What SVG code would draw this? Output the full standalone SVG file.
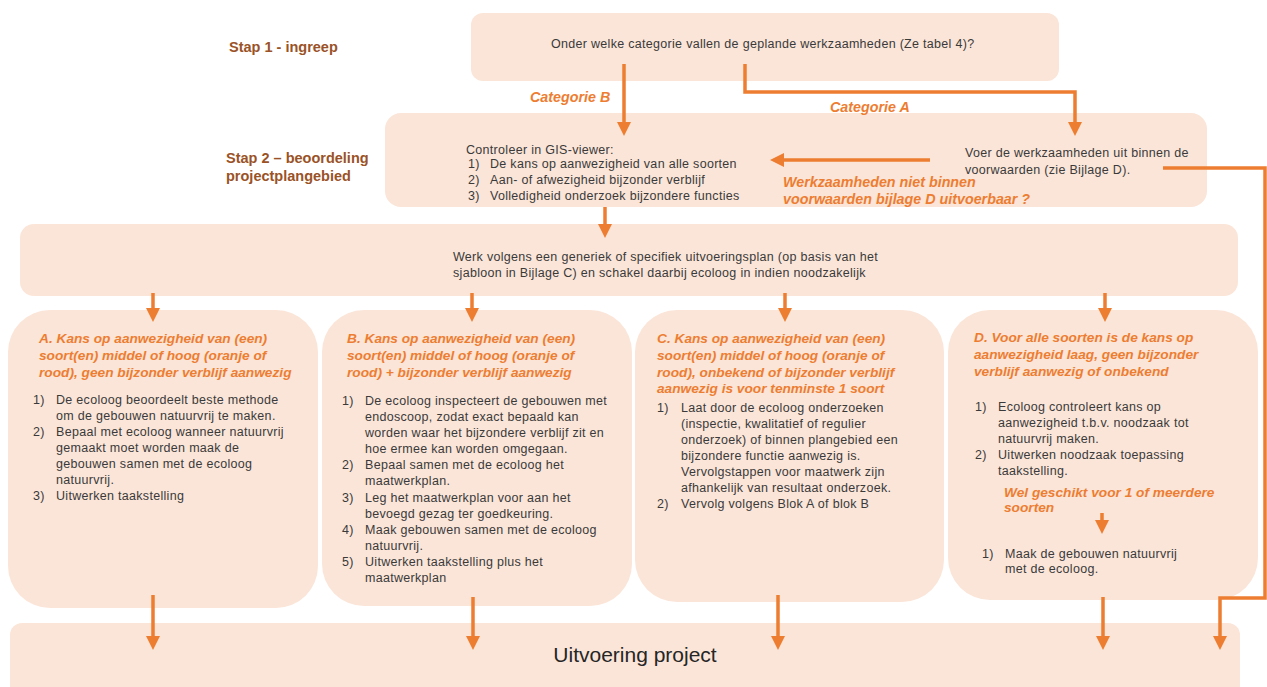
<svg xmlns="http://www.w3.org/2000/svg" width="1267" height="687" viewBox="0 0 1267 687">
  <style>
    .box { fill: #FBE5D8; }
    .txt { font-family: "Liberation Sans", Arial, sans-serif; font-size: 12.5px; letter-spacing: 0.3px; fill: #3a3a3a; }
    .hd { font-family: "Liberation Sans", Arial, sans-serif; font-size: 13.7px; font-weight: bold; font-style: italic; fill: #ED7D31; }
    .lbl { font-family: "Liberation Sans", Arial, sans-serif; font-size: 14.3px; font-weight: bold; font-style: italic; fill: #ED7D31; }
    .stap { font-family: "Liberation Sans", Arial, sans-serif; font-size: 14.5px; font-weight: bold; fill: #9A5226; }
    .big { font-family: "Liberation Sans", Arial, sans-serif; font-size: 21px; fill: #262626; }
    .con { fill: none; stroke: #ED7D31; stroke-width: 3.5; }
  </style>
  <defs>
    <marker id="arrow" markerUnits="userSpaceOnUse" markerWidth="14" markerHeight="14" viewBox="0 0 14 14" refX="2" refY="7" orient="auto">
      <path d="M0,0 L14,7 L0,14 z" fill="#ED7D31"/>
    </marker>
  </defs>

  <rect width="1267" height="687" fill="#ffffff"/>

  <!-- side labels -->
  <text class="stap" x="229" y="52">Stap 1 - ingreep</text>
  <text class="stap" x="226" y="163">Stap 2 – beoordeling</text>
  <text class="stap" x="226" y="181">projectplangebied</text>

  <!-- step 1 question -->
  <g id="vraag">
    <rect class="box" x="471" y="13" width="588" height="68" rx="12"/>
    <text class="txt" x="551" y="48">Onder welke categorie vallen de geplande werkzaamheden (Ze tabel 4)?</text>
  </g>

  <!-- step 2 panel -->
  <g id="beoordeling">
    <rect class="box" x="385" y="113" width="822" height="94" rx="16"/>
    <text class="txt" x="466" y="154">Controleer in GIS-viewer:</text>
    <text class="txt" x="468" y="168">1)</text><text class="txt" x="490" y="168">De kans op aanwezigheid van alle soorten</text>
    <text class="txt" x="468" y="184">2)</text><text class="txt" x="490" y="184">Aan- of afwezigheid bijzonder verblijf</text>
    <text class="txt" x="468" y="200">3)</text><text class="txt" x="490" y="200">Volledigheid onderzoek bijzondere functies</text>
    <text class="txt" x="965" y="157">Voer de werkzaamheden uit binnen de</text>
    <text class="txt" x="965" y="174">voorwaarden (zie Bijlage D).</text>
  </g>

  <!-- working plan -->
  <g id="werkplan">
    <rect class="box" x="20" y="224" width="1218" height="72" rx="14"/>
    <text class="txt" x="453" y="261">Werk volgens een generiek of specifiek uitvoeringsplan (op basis van het</text>
    <text class="txt" x="453" y="277">sjabloon in Bijlage C) en schakel daarbij ecoloog in indien noodzakelijk</text>
  </g>

  <!-- block A -->
  <g id="blok-a">
    <rect class="box" x="8" y="310" width="310" height="298" rx="42"/>
    <text class="hd" x="39" y="343">A. Kans op aanwezigheid van (een)</text>
    <text class="hd" x="39" y="360">soort(en) middel of hoog (oranje of</text>
    <text class="hd" x="39" y="377">rood), geen bijzonder verblijf aanwezig</text>
    <g class="txt">
      <text x="33" y="404">1)</text><text x="56" y="404">De ecoloog beoordeelt beste methode</text>
      <text x="56" y="420">om de gebouwen natuurvrij te maken.</text>
      <text x="33" y="436">2)</text><text x="56" y="436">Bepaal met ecoloog wanneer natuurvrij</text>
      <text x="56" y="452">gemaakt moet worden maak de</text>
      <text x="56" y="468">gebouwen samen met de ecoloog</text>
      <text x="56" y="484">natuurvrij.</text>
      <text x="33" y="500">3)</text><text x="56" y="500">Uitwerken taakstelling</text>
    </g>
  </g>

  <!-- block B -->
  <g id="blok-b">
    <rect class="box" x="322" y="310" width="310" height="296" rx="42"/>
    <text class="hd" x="347" y="343">B. Kans op aanwezigheid van (een)</text>
    <text class="hd" x="347" y="360">soort(en) middel of hoog (oranje of</text>
    <text class="hd" x="347" y="377">rood) + bijzonder verblijf aanwezig</text>
    <g class="txt">
      <text x="342" y="405">1)</text><text x="365" y="405">De ecoloog inspecteert de gebouwen met</text>
      <text x="365" y="421">endoscoop, zodat exact bepaald kan</text>
      <text x="365" y="437">worden waar het bijzondere verblijf zit en</text>
      <text x="365" y="453">hoe ermee kan worden omgegaan.</text>
      <text x="342" y="469">2)</text><text x="365" y="469">Bepaal samen met de ecoloog het</text>
      <text x="365" y="485">maatwerkplan.</text>
      <text x="342" y="502">3)</text><text x="365" y="502">Leg het maatwerkplan voor aan het</text>
      <text x="365" y="518">bevoegd gezag ter goedkeuring.</text>
      <text x="342" y="534">4)</text><text x="365" y="534">Maak gebouwen samen met de ecoloog</text>
      <text x="365" y="550">natuurvrij.</text>
      <text x="342" y="566">5)</text><text x="365" y="566">Uitwerken taakstelling plus het</text>
      <text x="365" y="582">maatwerkplan</text>
    </g>
  </g>

  <!-- block C -->
  <g id="blok-c">
    <rect class="box" x="635" y="310" width="309" height="292" rx="42"/>
    <text class="hd" x="657" y="343">C. Kans op aanwezigheid van (een)</text>
    <text class="hd" x="657" y="360">soort(en) middel of hoog (oranje of</text>
    <text class="hd" x="657" y="377">rood), onbekend of bijzonder verblijf</text>
    <text class="hd" x="657" y="393">aanwezig is voor tenminste 1 soort</text>
    <g class="txt">
      <text x="657" y="412">1)</text><text x="681" y="412">Laat door de ecoloog onderzoeken</text>
      <text x="681" y="428">(inspectie, kwalitatief of regulier</text>
      <text x="681" y="444">onderzoek) of binnen plangebied een</text>
      <text x="681" y="460">bijzondere functie aanwezig is.</text>
      <text x="681" y="476">Vervolgstappen voor maatwerk zijn</text>
      <text x="681" y="492">afhankelijk van resultaat onderzoek.</text>
      <text x="657" y="508">2)</text><text x="681" y="508">Vervolg volgens Blok A of blok B</text>
    </g>
  </g>

  <!-- block D -->
  <g id="blok-d">
    <rect class="box" x="948" y="310" width="310" height="290" rx="42"/>
    <text class="hd" x="974" y="342">D. Voor alle soorten is de kans op</text>
    <text class="hd" x="974" y="359">aanwezigheid laag, geen bijzonder</text>
    <text class="hd" x="974" y="376">verblijf aanwezig of onbekend</text>
    <g class="txt">
      <text x="975" y="411">1)</text><text x="998" y="411">Ecoloog controleert kans op</text>
      <text x="998" y="427">aanwezigheid t.b.v. noodzaak tot</text>
      <text x="998" y="443">natuurvrij maken.</text>
      <text x="975" y="459">2)</text><text x="998" y="459">Uitwerken noodzaak toepassing</text>
      <text x="998" y="475">taakstelling.</text>
      <text x="982" y="558">1)</text><text x="1005" y="558">Maak de gebouwen natuurvrij</text>
      <text x="1005" y="573">met de ecoloog.</text>
    </g>
    <text class="hd" x="1004" y="497">Wel geschikt voor 1 of meerdere</text>
    <text class="hd" x="1004" y="512">soorten</text>
  </g>

  <!-- execution -->
  <g id="uitvoering">
    <rect class="box" x="10" y="623" width="1230" height="80" rx="12"/>
    <text class="big" x="635" y="662" text-anchor="middle">Uitvoering project</text>
  </g>

  <!-- connectors -->
  <g id="connectors">
    <path class="con" d="M624,64 V124" marker-end="url(#arrow)"/>
    <path class="con" d="M745,64 V92 H1075 V124" marker-end="url(#arrow)"/>
    <path class="con" d="M930,160 H782" marker-end="url(#arrow)"/>
    <path class="con" d="M1163,168 H1265 V598 H1220 V638" marker-end="url(#arrow)"/>
    <path class="con" d="M605,207 V226" marker-end="url(#arrow)"/>
    <path class="con" d="M153,293 V310" marker-end="url(#arrow)"/>
    <path class="con" d="M472,293 V310" marker-end="url(#arrow)"/>
    <path class="con" d="M785,293 V310" marker-end="url(#arrow)"/>
    <path class="con" d="M1105,293 V310" marker-end="url(#arrow)"/>
    <path class="con" d="M1102,513 V522" marker-end="url(#arrow)"/>
    <path class="con" d="M153,595 V638" marker-end="url(#arrow)"/>
    <path class="con" d="M473,597 V638" marker-end="url(#arrow)"/>
    <path class="con" d="M778,595 V638" marker-end="url(#arrow)"/>
    <path class="con" d="M1103,597 V638" marker-end="url(#arrow)"/>
  </g>

  <!-- connector labels -->
  <text class="lbl" x="530" y="102">Categorie B</text>
  <text class="lbl" x="830" y="112">Categorie A</text>
  <text class="lbl" x="783" y="187">Werkzaamheden niet binnen</text>
  <text class="lbl" x="783" y="204">voorwaarden bijlage D uitvoerbaar ?</text>
</svg>
